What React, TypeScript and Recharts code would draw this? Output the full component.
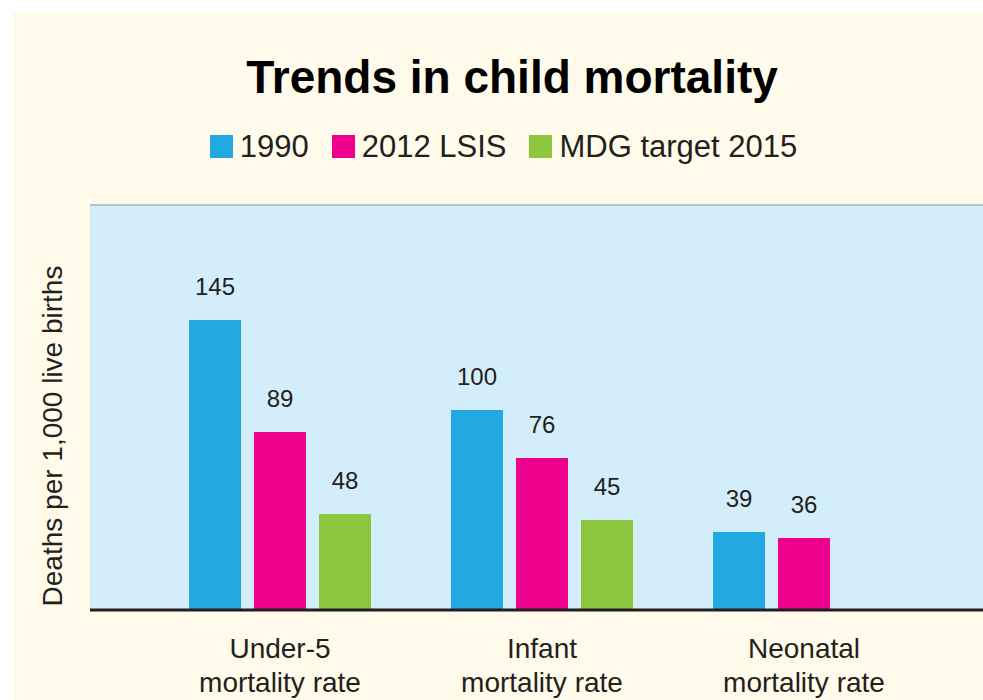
import React from 'react';
import {
    BarChart, Bar, XAxis, YAxis, CartesianGrid, ReferenceLine, LabelList
} from 'recharts';

const categories = ['Under-5|mortality rate', 'Infant|mortality rate', 'Neonatal|mortality rate'];
const values1990 = [145, 100, 39];
const values2012 = [89, 76, 36];
const valuesTarget = [48, 45, null];

const SERIES = [
    { key: 'y1990', name: '1990', color: '#23A9E1' },
    { key: 'y2012', name: '2012 LSIS', color: '#EC008C' },
    { key: 'target', name: 'MDG target 2015', color: '#8DC63F' },
];

const FONT = '"Liberation Sans", Arial, sans-serif';
const INK = '#231F20';
const CREAM = '#FFFAE9';
const PLOT_BG = '#D3EEFA';
const BORDER = '#A9B0B3';

const data = categories.map((c, i) => ({
    category: c,
    y1990: values1990[i],
    y2012: values2012[i],
    target: valuesTarget[i],
}));

// two-line category tick under the baseline
const CategoryTick = (props: any) => {
    const { x, payload } = props;
    const [l1, l2] = String(payload.value).split('|');
    return (
        <text textAnchor="middle" fill={INK} fontSize={28} fontFamily={FONT}>
            <tspan x={x} y={646}>{l1}</tspan>
            <tspan x={x} y={680}>{l2}</tspan>
        </text>
    );
};

const YLabel = () => (
    <text
        x={49}
        y={424}
        transform="rotate(-90, 49, 424)"
        textAnchor="middle"
        fill={INK}
        fontSize={28}
        fontFamily={FONT}
    >
        Deaths per 1,000 live births
    </text>
);

const LegendRow = () => (
    <div style={{
        position: 'absolute', top: 119, left: 0, width: 981, height: 31,
        display: 'flex', justifyContent: 'center', alignItems: 'center',
        fontFamily: FONT, fontSize: 31, lineHeight: '31px', color: INK,
    }}>
        {SERIES.map((s, i) => (
            <div key={s.key} style={{ display: 'flex', alignItems: 'center', marginLeft: i === 0 ? 0 : 23 }}>
                <span style={{ display: 'inline-block', width: 23, height: 23, background: s.color, marginRight: 7 }} />
                <span style={{ whiteSpace: 'nowrap' }}>{s.name}</span>
            </div>
        ))}
    </div>
);

export default function App() {
    return (
        <div style={{ position: 'absolute', left: 0, top: 0, width: 983, height: 700, background: '#fff', overflow: 'hidden' }}>
            <div style={{ position: 'absolute', left: 13, top: 12, width: 970, height: 688, background: CREAM }}>
                <div style={{
                    position: 'absolute', left: 0, top: 43, width: 998, textAlign: 'center',
                    fontFamily: FONT, fontWeight: 'bold', fontSize: 46, lineHeight: '45px',
                    color: '#000', whiteSpace: 'nowrap',
                }}>
                    Trends in child mortality
                </div>
                <LegendRow />
                <div style={{ position: 'absolute', left: 0, top: 0 }}>
                    <BarChart
                        width={970}
                        height={688}
                        data={data}
                        margin={{ top: 193, right: 0, bottom: 0, left: 77 }}
                        barSize={52}
                        barGap={13}
                    >
                        <CartesianGrid fill={PLOT_BG} horizontal={false} vertical={false} />
                        <XAxis
                            dataKey="category"
                            padding={{ left: 59, right: 48 }}
                            axisLine={{ stroke: INK, strokeWidth: 3 }}
                            tickLine={false}
                            tick={<CategoryTick />}
                            interval={0}
                            height={90}
                        />
                        <YAxis
                            width={0}
                            domain={[0, 202.5]}
                            allowDataOverflow
                            tick={false}
                            tickLine={false}
                            axisLine={{ stroke: BORDER, strokeWidth: 1.5 }}
                        />
                        <ReferenceLine y={202.5} stroke={BORDER} strokeWidth={1.5} />
                        {SERIES.map(s => (
                            <Bar key={s.key} dataKey={s.key} name={s.name} fill={s.color} isAnimationActive={false}>
                                <LabelList
                                    dataKey={s.key}
                                    position="top"
                                    offset={25}
                                    fill={INK}
                                    fontSize={24}
                                    fontFamily={FONT}
                                    formatter={(v: any) => (v == null ? '' : v)}
                                />
                            </Bar>
                        ))}
                        <YLabel />
                    </BarChart>
                </div>
            </div>
        </div>
    );
}
